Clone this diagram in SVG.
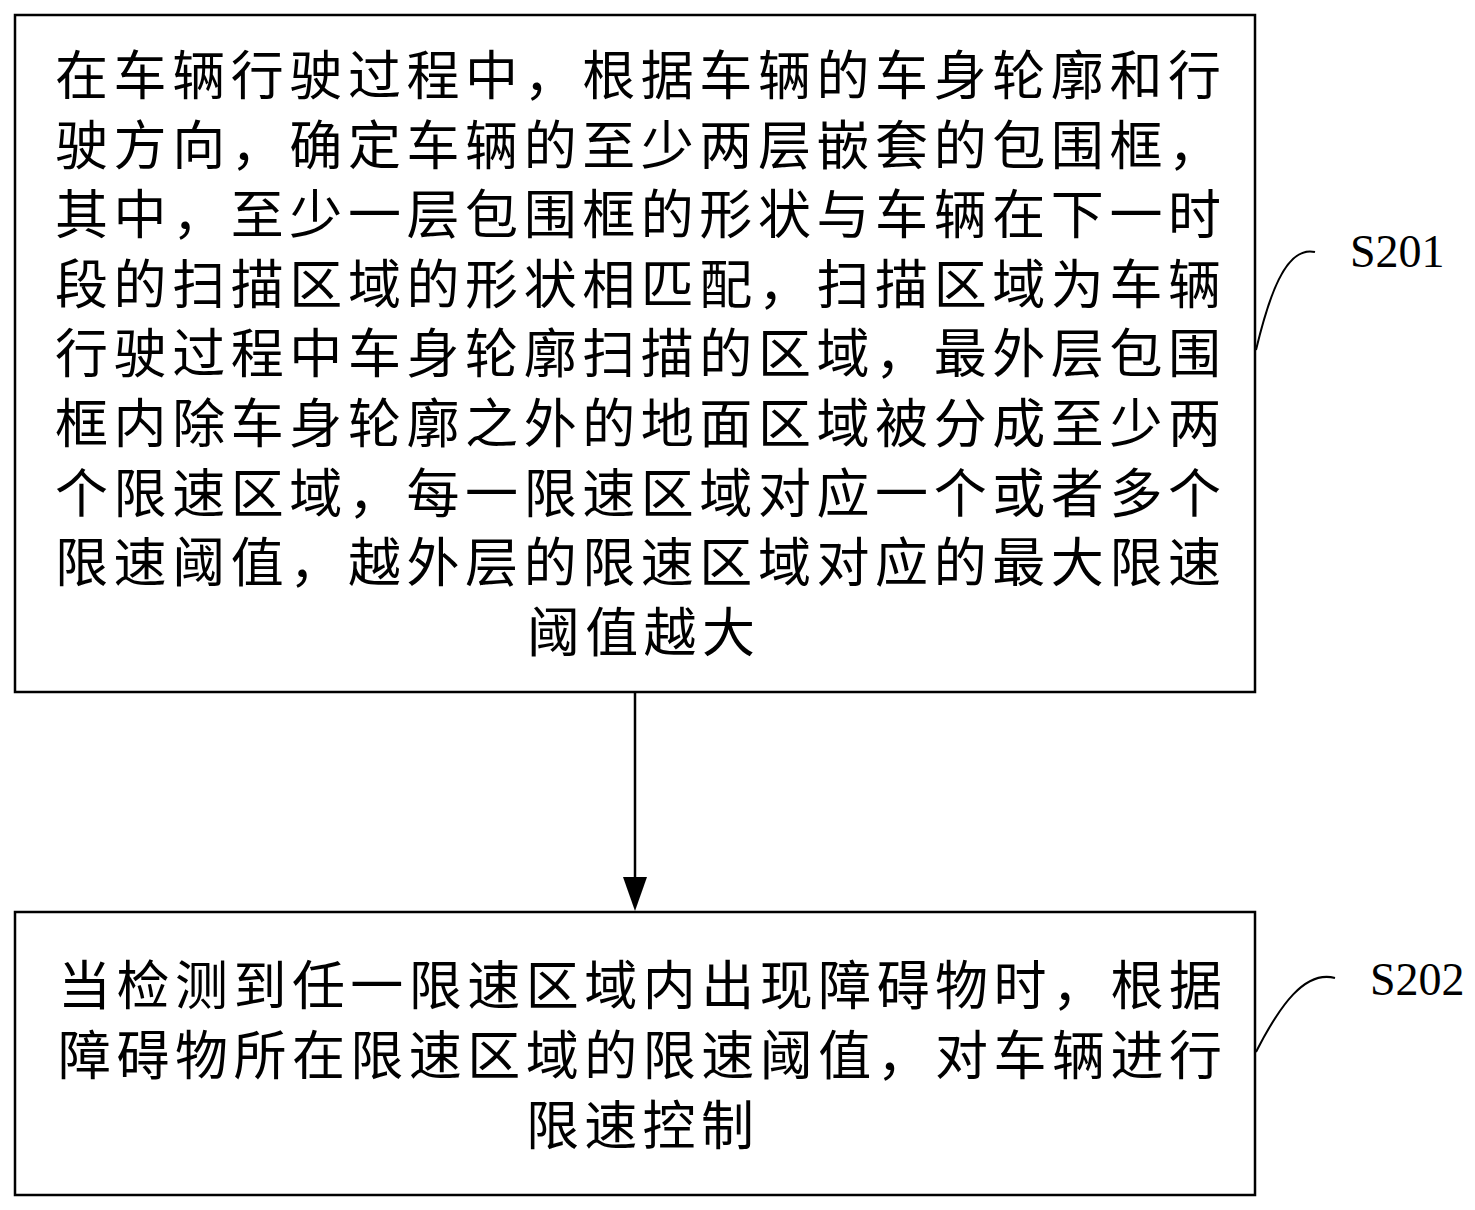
<svg xmlns="http://www.w3.org/2000/svg" width="1475" height="1210" viewBox="0 0 1475 1210">
<style>
.box{fill:#fff;stroke:#000;stroke-width:2.5}
.t{font-family:"Noto Sans CJK SC","Noto Sans CJK JP",sans-serif;font-size:53px;fill:#000}
.s{letter-spacing:5.3px}
.lbl{font-family:"Liberation Serif",serif;font-size:46px;fill:#000}
.c{fill:none;stroke:#000;stroke-width:2}
</style>
<rect width="1475" height="1210" fill="#fff"/>
<g id="S201">
<rect class="box" x="15" y="15" width="1240" height="677"/>
<text class="t" x="55" y="95" textLength="1166" lengthAdjust="spacing">在车辆行驶过程中，根据车辆的车身轮廓和行</text>
<text class="t" x="55" y="165" textLength="1166" lengthAdjust="spacing">驶方向，确定车辆的至少两层嵌套的包围框，</text>
<text class="t" x="55" y="234" textLength="1166" lengthAdjust="spacing">其中，至少一层包围框的形状与车辆在下一时</text>
<text class="t" x="55" y="304" textLength="1166" lengthAdjust="spacing">段的扫描区域的形状相匹配，扫描区域为车辆</text>
<text class="t" x="55" y="373" textLength="1166" lengthAdjust="spacing">行驶过程中车身轮廓扫描的区域，最外层包围</text>
<text class="t" x="55" y="443" textLength="1166" lengthAdjust="spacing">框内除车身轮廓之外的地面区域被分成至少两</text>
<text class="t" x="55" y="513" textLength="1166" lengthAdjust="spacing">个限速区域，每一限速区域对应一个或者多个</text>
<text class="t" x="55" y="582" textLength="1166" lengthAdjust="spacing">限速阈值，越外层的限速区域对应的最大限速</text>
<text class="t s" x="527" y="652">阈值越大</text>
</g>
<g id="S202">
<rect class="box" x="15" y="912" width="1240" height="283"/>
<text class="t" x="58" y="1005" textLength="1164" lengthAdjust="spacing">当检测到任一限速区域内出现障碍物时，根据</text>
<text class="t" x="58" y="1075" textLength="1164" lengthAdjust="spacing">障碍物所在限速区域的限速阈值，对车辆进行</text>
<text class="t s" x="526" y="1145">限速控制</text>
</g>
<g id="label-S201">
<path class="c" d="M1256,350 C1268,300 1285,245 1315,252"/>
<text class="lbl" x="1350" y="267">S201</text>
</g>
<g id="label-S202">
<path class="c" d="M1256,1052 C1280,1005 1305,970 1335,978"/>
<text class="lbl" x="1370" y="995">S202</text>
</g>
<g id="connectors">
<line x1="635" y1="692" x2="635" y2="880" stroke="#000" stroke-width="2.5"/>
<path d="M623,877 L647,877 L635,911 Z" fill="#000"/>
</g>
</svg>
